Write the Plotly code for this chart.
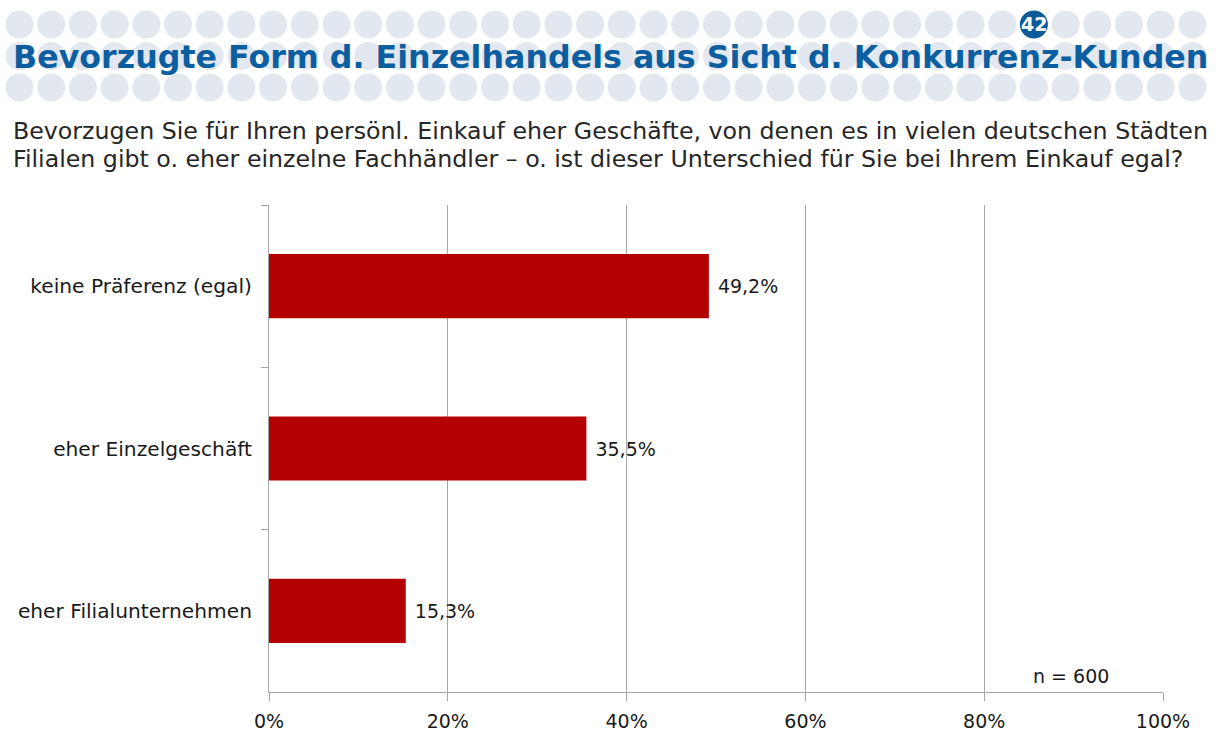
import plotly.graph_objects as go

# Survey answers and shares (percent)
categories = ["keine Präferenz (egal)", "eher Einzelgeschäft", "eher Filialunternehmen"]
shares = [49.2, 35.5, 15.3]
x_ticks = [0, 20, 40, 60, 80, 100]
x_tick_labels = [f"{v}%" for v in x_ticks]

title_text = "Bevorzugte Form d. Einzelhandels aus Sicht d. Konkurrenz-Kunden"
question_lines = [
    "Bevorzugen Sie für Ihren persönl. Einkauf eher Geschäfte, von denen es in vielen deutschen Städten",
    "Filialen gibt o. eher einzelne Fachhändler – o. ist dieser Unterschied für Sie bei Ihrem Einkauf egal?",
]
sample_note = "n = 600"
page_number = "42"

W, H = 1220, 734
ML, MR, MT, MB = 269, 57, 205, 42
PW, PH = W - ML - MR, H - MT - MB


def px(x):
    return (x - ML) / PW


def py(y):
    return (H - MB - y) / PH


FONT = "Verdana, DejaVu Sans, sans-serif"
BAR = "#b30000"
GRID = "#a6a6a6"
TXT = "#1a1a1a"

fig = go.Figure()
fig.add_trace(go.Bar(
    y=categories,
    x=shares,
    orientation="h",
    marker=dict(color=BAR, line=dict(width=0)),
    width=0.395,
    text=shares,
    texttemplate=" %{x:.1f}%",
    textposition="outside",
    textfont=dict(family=FONT, size=19, color=TXT),
    cliponaxis=False,
    hoverinfo="skip",
))

shapes = []
# decorative dot band behind the headline
dot_d = 28
dot_step = 31.7
rows_y = [24.5, 56, 87.5]
for r, cy in enumerate(rows_y):
    for i in range(38):
        cx = 19.5 + i * dot_step
        badge = (r == 0 and i == 32)
        shapes.append(dict(
            type="circle", xref="paper", yref="paper",
            x0=px(cx - dot_d / 2), x1=px(cx + dot_d / 2),
            y0=py(cy + dot_d / 2), y1=py(cy - dot_d / 2),
            fillcolor="#0d5c99" if badge else "#e3e7f0",
            line=dict(width=0), layer="below",
        ))

annotations = [
    dict(text=f"<b>{title_text}</b>", xref="paper", yref="paper",
         x=px(11), y=py(57), xanchor="left", yanchor="middle", showarrow=False,
         font=dict(family=FONT, size=31.7, color="#0b5fa0")),
    dict(text=f"<b>{page_number}</b>", xref="paper", yref="paper",
         x=px(19.5 + 32 * dot_step), y=py(24), xanchor="center", yanchor="middle",
         showarrow=False, font=dict(family=FONT, size=19, color="white")),
    dict(text=question_lines[0], xref="paper", yref="paper",
         x=px(11), y=py(131), xanchor="left", yanchor="middle", showarrow=False,
         font=dict(family=FONT, size=23.7, color="#262626")),
    dict(text=question_lines[1], xref="paper", yref="paper",
         x=px(11), y=py(159), xanchor="left", yanchor="middle", showarrow=False,
         font=dict(family=FONT, size=23.7, color="#262626")),
    dict(text=sample_note, xref="paper", yref="paper",
         x=px(1071), y=py(676), xanchor="center", yanchor="middle", showarrow=False,
         font=dict(family=FONT, size=19, color=TXT)),
]

fig.update_layout(
    width=W, height=H,
    margin=dict(l=ML, r=MR, t=MT, b=MB, pad=0, autoexpand=False),
    paper_bgcolor="white", plot_bgcolor="white",
    separators=",.",
    showlegend=False,
    shapes=shapes,
    annotations=annotations,
    font=dict(family=FONT, color=TXT),
    bargap=0.6,
)
fig.update_xaxes(
    range=[0, 100], tickvals=x_ticks, ticktext=x_tick_labels,
    showgrid=True, gridcolor=GRID, gridwidth=1,
    showline=True, linecolor=GRID, linewidth=1,
    ticks="outside", ticklen=8, tickcolor=GRID,
    ticklabelstandoff=4, automargin=False,
    tickfont=dict(family=FONT, size=19, color=TXT),
    zeroline=False, fixedrange=True,
)
fig.update_yaxes(
    type="category", categoryorder="array", categoryarray=categories,
    range=[2.5, -0.5], tickson="boundaries",
    ticks="outside", ticklen=7, tickcolor=GRID,
    showline=True, linecolor=GRID, linewidth=1,
    showgrid=False, ticklabelstandoff=12, automargin=False,
    tickfont=dict(family=FONT, size=20.2, color=TXT),
    fixedrange=True,
)

fig.write_html("out.html")
